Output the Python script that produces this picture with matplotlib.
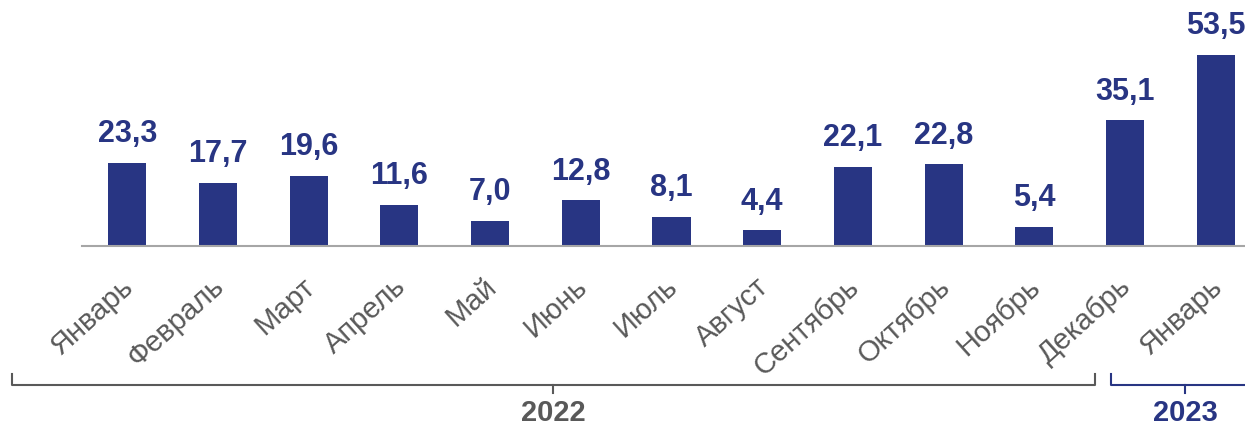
import matplotlib
matplotlib.use("Agg")
import matplotlib.pyplot as plt
from matplotlib.lines import Line2D
from matplotlib.transforms import ScaledTranslation

plt.rcParams['font.family'] = ['Liberation Sans', 'DejaVu Sans']

# MARK: data
months = ['Январь', 'Февраль', 'Март', 'Апрель', 'Май', 'Июнь', 'Июль',
          'Август', 'Сентябрь', 'Октябрь', 'Ноябрь', 'Декабрь', 'Январь']
values = [23.3, 17.7, 19.6, 11.6, 7.0, 12.8, 8.1, 4.4, 22.1, 22.8, 5.4, 35.1, 53.5]
years = ['2022', '2023']

NAVY = '#283583'
GRAY = '#595959'

W, H = 1245, 425
fig = plt.figure(figsize=(W / 100, H / 100), dpi=100, facecolor='white')
ax = fig.add_axes([82 / W, 179 / H, (1261 - 82) / W, 246 / H])

x = range(len(values))
ax.bar(x, values, width=0.42, color=NAVY)
for xi, v in zip(x, values):
    ax.text(xi, v + 3.8, f'{v:.1f}'.replace('.', ','), ha='center', va='bottom',
            fontsize=22, fontweight='bold', color=NAVY)

ax.set_xlim(-0.5, len(values) - 0.5)
ax.set_ylim(0, 68.8)
ax.set_yticks([])
for s in ('left', 'right', 'top'):
    ax.spines[s].set_visible(False)
ax.spines['bottom'].set_color('#a6a6a6')
ax.spines['bottom'].set_linewidth(1.5)
ax.set_xticks(list(x))
ax.set_xticklabels(months, rotation=42, ha='right', va='top', rotation_mode='anchor',
                   fontsize=21, color=GRAY)
ax.tick_params(axis='x', length=0, pad=19)
# nudge labels a little to the left
shift = ScaledTranslation(-0.07, 0, fig.dpi_scale_trans)
for lbl in ax.get_xticklabels():
    lbl.set_transform(lbl.get_transform() + shift)

# brackets under the months (pixel coords, y measured from top)
ov = fig.add_axes([0, 0, 1, 1], facecolor='none')
ov.set_xlim(0, W)
ov.set_ylim(H, 0)
ov.axis('off')


def bracket(x0, x1, xc, color, label):
    y = 385
    ov.add_line(Line2D([x0, x0, x1, x1], [374, y, y, 374], color=color, lw=1.5))
    ov.add_line(Line2D([xc, xc], [y, 393], color=color, lw=1.5))
    ov.text(xc, 413, label, ha='center', va='center', fontsize=21,
            fontweight='bold', color=color)


bracket(12, 1095, 553, GRAY, years[0])
bracket(1111, 1262, 1185, NAVY, years[1])

fig.savefig('out.png', dpi=100)
